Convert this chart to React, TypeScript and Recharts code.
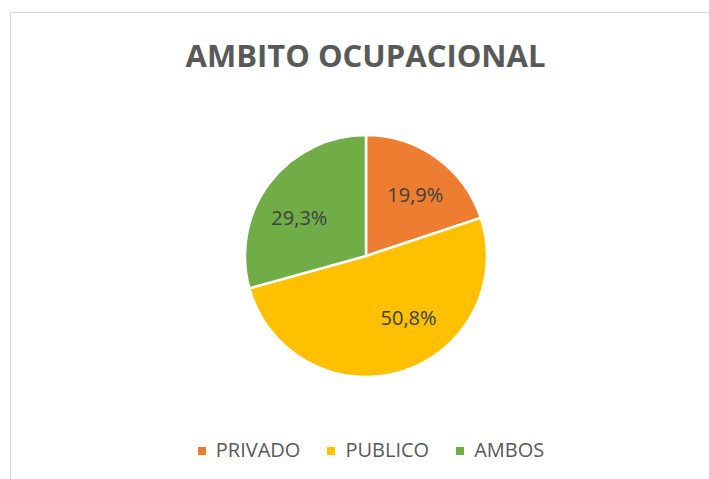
import React from "react";
import { PieChart, Pie, Cell } from "recharts";

const categories = ["PRIVADO", "PUBLICO", "AMBOS"];
const percents = [19.9, 50.8, 29.3];
const colors = ["#ED7D31", "#FFC000", "#70AD47"];

// Excel "best fit" label placement doesn't sit exactly on the mid-angle
const labelNudge = [
  { dx: 4, dy: 1 },
  { dx: 20, dy: -13 },
  { dx: -5, dy: 8 },
];

const data = categories.map((name, i) => ({ name, value: percents[i] }));

const FONT = "'Open Sans', 'Noto Sans', sans-serif";
const RAD = Math.PI / 180;

const renderLabel = (props: any) => {
  const { cx, cy, midAngle, outerRadius, value, index } = props;
  const r = outerRadius * 0.64;
  const n = labelNudge[index] || { dx: 0, dy: 0 };
  const x = cx + r * Math.cos(-midAngle * RAD) + n.dx;
  const y = cy + r * Math.sin(-midAngle * RAD) + n.dy;
  return (
    <text
      x={x}
      y={y}
      fill="#404040"
      fontSize={20}
      fontFamily={FONT}
      textAnchor="middle"
      dominantBaseline="central"
    >
      {value.toFixed(1).replace(".", ",")}%
    </text>
  );
};

export default function App() {
  return (
    <div
      style={{
        position: "absolute",
        left: 0,
        top: 0,
        width: 709,
        height: 479,
        overflow: "hidden",
        background: "#fff",
      }}
    >
      <div
        style={{
          position: "absolute",
          left: 10,
          top: 12,
          width: 760,
          height: 520,
          border: "1px solid #d9d9d9",
        }}
      />
      <div
        style={{
          position: "absolute",
          left: 0,
          top: 40,
          width: 731,
          textAlign: "center",
          fontFamily: FONT,
          fontWeight: 700,
          fontSize: 31,
          lineHeight: "31px",
          color: "#595959",
        }}
      >
        AMBITO OCUPACIONAL
      </div>
      <div style={{ position: "absolute", left: 0, top: 0 }}>
        <PieChart
          width={709}
          height={479}
          margin={{ top: 0, right: 0, bottom: 0, left: 0 }}
        >
          <Pie
            data={data}
            dataKey="value"
            nameKey="name"
            cx={366}
            cy={256}
            outerRadius={121}
            startAngle={90}
            endAngle={-270}
            stroke="#ffffff"
            strokeWidth={2.5}
            label={renderLabel}
            labelLine={false}
            isAnimationActive={false}
          >
            {data.map((d, i) => (
              <Cell key={d.name} fill={colors[i]} />
            ))}
          </Pie>
        </PieChart>
      </div>
      <div
        style={{
          position: "absolute",
          left: 0,
          top: 440,
          width: 742,
          display: "flex",
          justifyContent: "center",
          gap: 27,
          fontFamily: FONT,
          fontSize: 20,
          lineHeight: "20px",
          color: "#595959",
        }}
      >
        {categories.map((c, i) => (
          <div key={c} style={{ display: "flex", alignItems: "center" }}>
            <span
              style={{
                display: "inline-block",
                width: 8,
                height: 8,
                background: colors[i],
                marginRight: 10,
                marginTop: 2,
              }}
            />
            <span>{c}</span>
          </div>
        ))}
      </div>
    </div>
  );
}
